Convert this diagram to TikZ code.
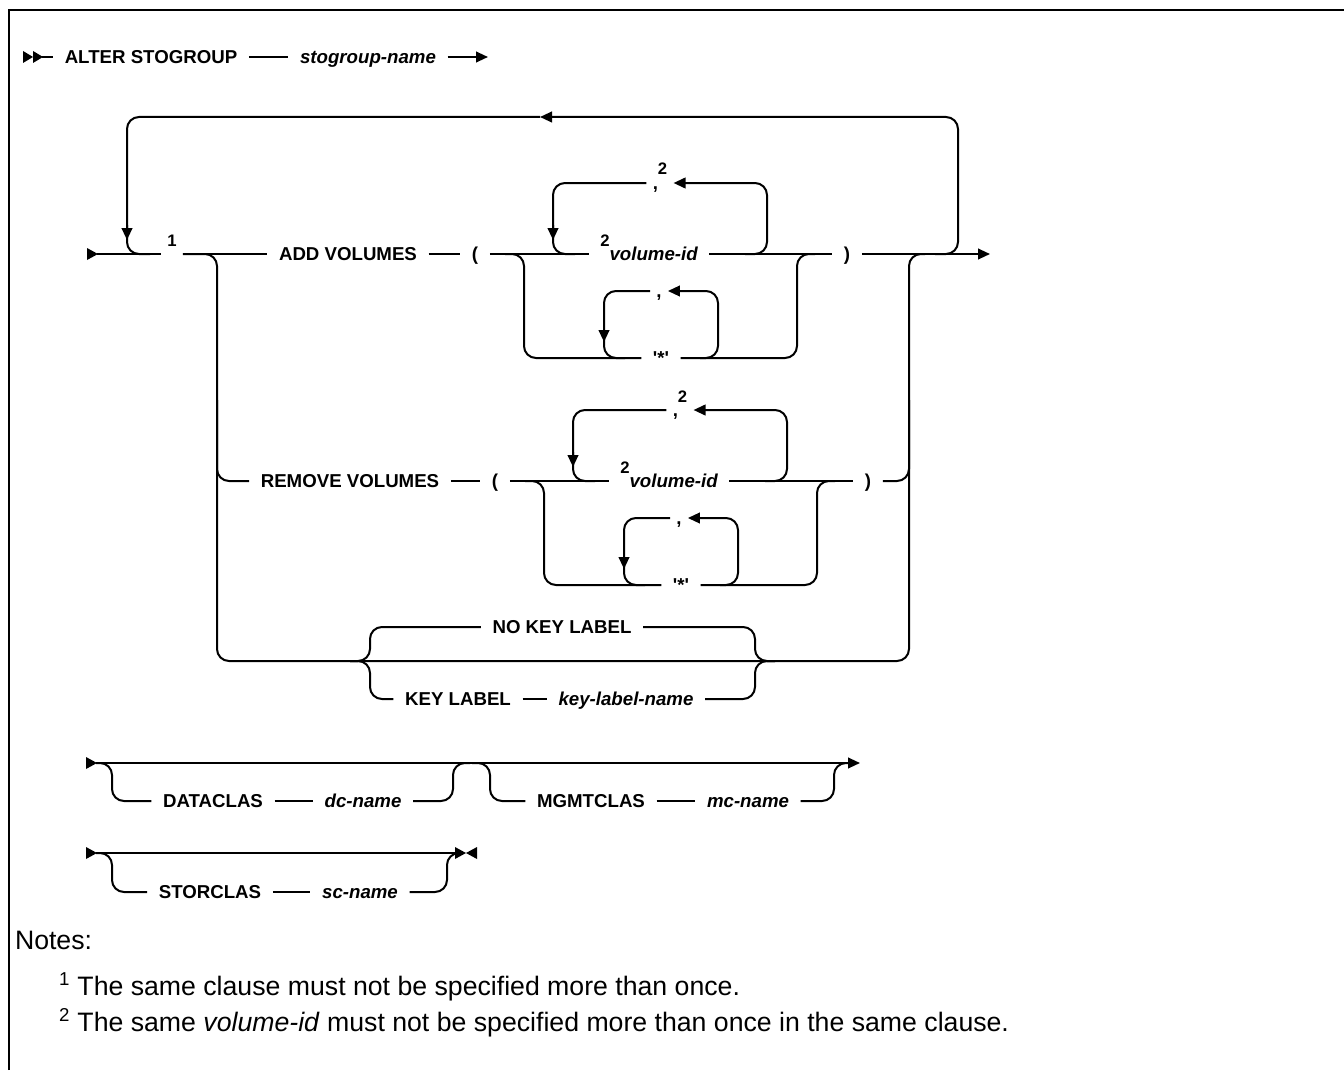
\documentclass[tikz,border=0pt]{standalone}
\usepackage{fontspec}
\setmainfont{Liberation Sans}
\usetikzlibrary{arrows.meta}

\newcommand{\supn}[1]{\raisebox{11pt}{\fontsize{12.5pt}{13pt}\selectfont\upshape\bfseries #1}}

\begin{document}
\begin{tikzpicture}[x=0.75pt, y=-0.75pt, line width=1.5pt,
    rail/.style={rounded corners=9pt},
    kw/.style={inner xsep=8pt, inner ysep=0pt, text height=13pt, text depth=3pt,
        font=\fontsize{14pt}{16pt}\selectfont\bfseries},
    var/.style={kw, font=\fontsize{14pt}{16pt}\selectfont\bfseries\itshape},
    tok/.style={kw, inner xsep=4pt},
    notes/.style={inner sep=0pt, anchor=west, font=\fontsize{20pt}{23pt}\selectfont},
    >={Triangle[length=9pt,width=8pt]}]
    \useasboundingbox (0,0) rectangle (1344,1070);

    % Frame
    \draw[line width=2.2pt] (9,1070) -- (9,10) -- (1344,10);

    % Row 1
    \fill (23,51) -- (33,57) -- (23,63) -- cycle;
    \fill (33,51) -- (43,57) -- (33,63) -- cycle;
    \coordinate (r1s) at (42,57);
    \node[kw] (alter) at (151,57) {ALTER STOGROUP};
    \node[var] (sgname) at (368,57) {stogroup-name};
    \coordinate (r1e) at (488,57);
    \draw (r1s) -- (alter.west);
    \draw (alter.east) -- (sgname.west);
    \draw[->] (sgname.east) -- (r1e);

    % Row 2: main line
    \fill (87,248) -- (98,254) -- (87,260) -- cycle;
    \coordinate (m0) at (97,254);
    \coordinate (mend) at (990,254);
    \node[tok] (one) at (172,254) {\supn{1}};
    \node[kw] (addv) at (348,254) {ADD VOLUMES};
    \node[kw] (addlp) at (475,254) {(};
    \node[var] (avol) at (649,254) {\supn{2}volume-id};
    \node[kw] (addrp) at (847,254) {)};
    \draw (m0) -- (one.west);
    \draw (one.east) -- (addv.west);
    \draw (addv.east) -- (addlp.west);
    \draw (addlp.east) -- (avol.west);
    \draw (avol.east) -- (addrp.west);
    \draw[->] (addrp.east) -- (mend);

    % Repeat loop
    \draw[rail,->] (935,254) -| (958,117) -- (540,117);
    \draw[rail,->] (540,117) -| (127,240);
    \draw[rail] (127,225) |- (150,254);

    % ADD VOLUMES: volume-id loop
    \node[tok] (acm) at (660,183) {,\supn{2}};
    \draw[rail,->] (745,254) -| (767,183) -- (acm.east);
    \draw[rail,->] (acm.west) -| (553,240);
    \draw[rail] (553,225) |- (575,254);

    % ADD VOLUMES: '*' branch
    \node[kw] (aast) at (661,358) {\textquotesingle*\textquotesingle};
    \node[tok] (asc) at (659,291) {,};
    \draw[rail] (505,254) -| (524,358) -- (aast.west);
    \draw[rail] (aast.east) -| (797,254) -- (815,254);
    \draw[rail,->] (700,358) -| (718,291) -- (asc.east);
    \draw[rail,->] (asc.west) -| (604,342);
    \draw[rail] (604,330) |- (625,358);

    % Choice branches
    \draw[rail] (one.east) -| (217,661) -| (909,254) -- (925,254);

    % REMOVE VOLUMES
    \node[kw] (remv) at (350,481) {REMOVE VOLUMES};
    \node[kw] (remlp) at (495,481) {(};
    \node[var] (rvol) at (669,481) {\supn{2}volume-id};
    \node[kw] (remrp) at (868,481) {)};
    \draw[rail] (217,400) |- (remv.west);
    \draw (remv.east) -- (remlp.west);
    \draw (remlp.east) -- (rvol.west);
    \draw (rvol.east) -- (remrp.west);
    \draw[rail] (remrp.east) -| (909,400);

    \node[tok] (rcm) at (680,410) {,\supn{2}};
    \draw[rail,->] (765,481) -| (787,410) -- (rcm.east);
    \draw[rail,->] (rcm.west) -| (573,467);
    \draw[rail] (573,452) |- (595,481);

    \node[kw] (rast) at (681,585) {\textquotesingle*\textquotesingle};
    \node[tok] (rsc) at (679,518) {,};
    \draw[rail] (525,481) -| (544,585) -- (rast.west);
    \draw[rail] (rast.east) -| (817,481) -- (835,481);
    \draw[rail,->] (720,585) -| (738,518) -- (rsc.east);
    \draw[rail,->] (rsc.west) -| (624,569);
    \draw[rail] (624,557) |- (645,585);

    % KEY LABEL choice
    \node[kw] (nokey) at (562,627) {NO KEY LABEL};
    \node[kw] (keyl) at (458,699) {KEY LABEL};
    \node[var] (kln) at (626,699) {key-label-name};
    \draw[rail] (350,661) -| (370,627) -- (nokey.west);
    \draw[rail] (nokey.east) -| (755,661) -- (775,661);
    \draw[rail] (350,661) -| (370,699) -- (keyl.west);
    \draw (keyl.east) -- (kln.west);
    \draw[rail] (kln.east) -| (755,661) -- (775,661);

    % Row 3
    \fill (86,757) -- (97,763) -- (86,769) -- cycle;
    \coordinate (r3s) at (96,763);
    \coordinate (r3e) at (860,763);
    \draw[->] (r3s) -- (r3e);
    \node[kw] (dcl) at (213,801) {DATACLAS};
    \node[var] (dcn) at (363,801) {dc-name};
    \draw[rail] (r3s) -| (112,801) -- (dcl.west);
    \draw (dcl.east) -- (dcn.west);
    \draw[rail] (dcn.east) -| (453,763) -- (470,763);
    \node[kw] (mcl) at (591,801) {MGMTCLAS};
    \node[var] (mcn) at (748,801) {mc-name};
    \draw[rail] (472,763) -| (490,801) -- (mcl.west);
    \draw (mcl.east) -- (mcn.west);
    \draw[rail] (mcn.east) -| (834,763) -- (848,763);

    % Row 4
    \fill (86,847) -- (97,853) -- (86,859) -- cycle;
    \coordinate (r4s) at (96,853);
    \coordinate (r4e) at (456,853);
    \draw (r4s) -- (r4e);
    \fill (455,847) -- (466,853) -- (455,859) -- cycle;
    \fill (477,847) -- (466,853) -- (477,859) -- cycle;
    \node[kw] (scl) at (210,892) {STORCLAS};
    \node[var] (scn) at (360,892) {sc-name};
    \draw[rail] (r4s) -| (112,892) -- (scl.west);
    \draw (scl.east) -- (scn.west);
    \draw[rail] (scn.east) -| (447,853) -- (456,853);

    % Notes
    \node[notes] (notehead) at (14,940) {Notes:};
    \node[notes] (note1) at (58,987) {\textsuperscript{1} The same clause must not be specified more than once.};
    \node[notes] (note2) at (58,1023) {\textsuperscript{2} The same \textit{volume-id} must not be specified more than once in the same clause.};
\end{tikzpicture}
\end{document}
